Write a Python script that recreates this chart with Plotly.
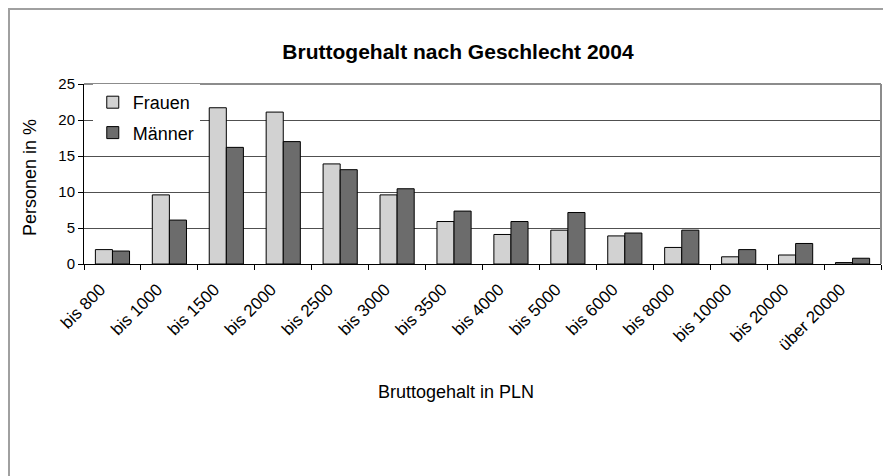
import plotly.graph_objects as go

categories = ["bis 800", "bis 1000", "bis 1500", "bis 2000", "bis 2500", "bis 3000",
              "bis 3500", "bis 4000", "bis 5000", "bis 6000", "bis 8000", "bis 10000",
              "bis 20000", "über 20000"]
frauen = [2.0, 9.6, 21.7, 21.1, 13.9, 9.6, 5.9, 4.1, 4.7, 3.9, 2.3, 1.0, 1.25, 0.2]
maenner = [1.8, 6.1, 16.2, 17.0, 13.1, 10.45, 7.35, 5.9, 7.15, 4.3, 4.7, 2.0, 2.85, 0.8]

FONT = "Liberation Sans, Arial, sans-serif"

# page has an 8px body margin, so the figure is sized/placed accordingly
W, H = 883, 468
L, R, T, B = 76, 10, 76, 212
PW, PH = W - L - R, H - T - B


def px_x(fx):
    return (fx - L) / PW


def px_y(fy):
    return (H - B - fy) / PH


fig = go.Figure()
fig.add_trace(go.Bar(
    x=categories, y=frauen, name="Frauen", legendgroup="f",
    marker=dict(color="#d2d2d2", line=dict(color="#000000", width=1)),
))
fig.add_trace(go.Bar(
    x=categories, y=maenner, name="Männer", legendgroup="m",
    marker=dict(color="#6c6c6c", line=dict(color="#000000", width=1)),
))

fig.update_layout(
    width=W, height=H,
    margin=dict(l=L, r=R, t=T, b=B),
    paper_bgcolor="white", plot_bgcolor="white",
    font=dict(family=FONT, color="#000000", size=15),
    barmode="group", bargap=0.4, bargroupgap=0,
    title=dict(text="<b>Bruttogehalt nach Geschlecht 2004</b>",
               x=450 / W, xanchor="center", y=1 - 44 / H, yanchor="middle",
               font=dict(size=21, family=FONT)),
    legend=dict(x=0.011, y=1.0, xanchor="left", yanchor="top",
                bgcolor="white", font=dict(size=18),
                tracegroupgap=4, traceorder="grouped"),
    showlegend=True,
)

fig.update_xaxes(
    showline=True, linecolor="#000000", linewidth=1,
    ticks="outside", ticklen=5, tickcolor="#000000", tickson="boundaries",
    tickangle=-45, tickfont=dict(size=17), showgrid=False,
    ticklabelstandoff=8, ticklabelshift=-12,
)
fig.update_yaxes(
    range=[0, 25], dtick=5, showline=True, linecolor="#000000", linewidth=1,
    ticks="outside", ticklen=5, tickcolor="#000000",
    showgrid=True, gridcolor="#505050", gridwidth=1, zeroline=False,
    tickfont=dict(size=15),
)

# axis titles
fig.add_annotation(text="Bruttogehalt in PLN", xref="paper", yref="paper",
                   x=px_x(448), y=px_y(384), showarrow=False,
                   xanchor="center", yanchor="middle", font=dict(size=18))
fig.add_annotation(text="Personen in %", xref="paper", yref="paper",
                   x=px_x(22), y=px_y(170), showarrow=False,
                   textangle=-90, xanchor="center", yanchor="middle", font=dict(size=18))

# plot-area border (top and right) and outer chart frame
fig.add_shape(type="line", xref="paper", yref="paper", x0=0, x1=1, y0=1, y1=1,
              line=dict(color="#8c8c8c", width=2))
fig.add_shape(type="line", xref="paper", yref="paper", x0=1, x1=1, y0=0, y1=1,
              line=dict(color="#8c8c8c", width=2))
fig.add_shape(type="rect", xref="paper", yref="paper",
              x0=px_x(1), x1=px_x(950), y0=px_y(520), y1=px_y(1),
              line=dict(color="#a0a0a0", width=2), layer="below")

fig.write_html("out.html")
